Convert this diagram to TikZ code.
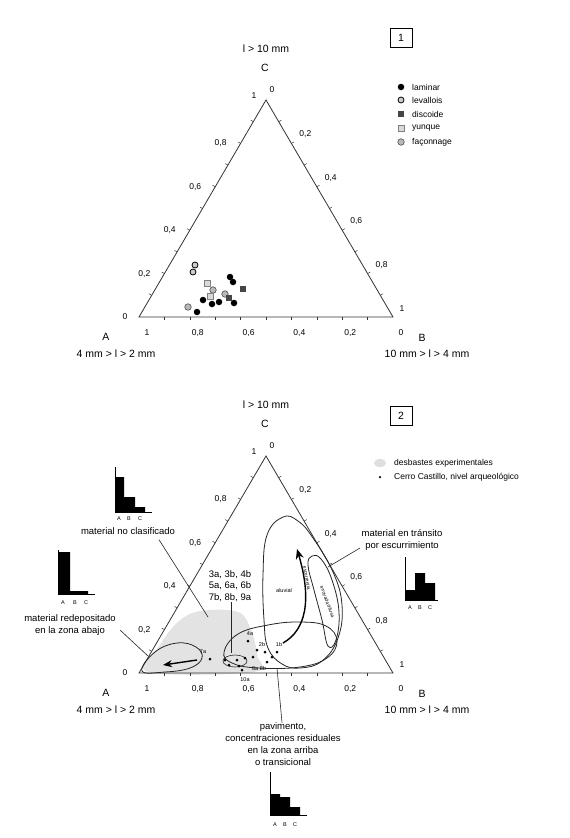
\documentclass[tikz,border=0pt]{standalone}
\usepackage{fontspec}
\setmainfont{Liberation Sans}
\usetikzlibrary{arrows.meta,calc}
\begin{document}
\begin{tikzpicture}[x=1pt,y=-1pt,
  ax/.style={line width=0.8pt, draw=black!80},
  tck/.style={line width=0.5pt, draw=black!80},
  num/.style={font=\fontsize{8.5}{9}\selectfont, inner sep=0pt},
  ttl/.style={font=\fontsize{10.5}{12}\selectfont, inner sep=0pt},
  lbl/.style={font=\fontsize{9.5}{11.8}\selectfont, inner sep=0pt, align=center},
  leg/.style={font=\fontsize{8.5}{10}\selectfont, inner sep=0pt, anchor=west},
  tiny/.style={font=\fontsize{5.5}{6}\selectfont, inner sep=0pt},
  micro/.style={font=\fontsize{4.8}{5}\selectfont, inner sep=0pt},
  lam/.style={circle, fill=black, inner sep=0pt, minimum size=6.5pt},
  lev/.style={circle, draw=black, fill=gray!40, line width=0.8pt, inner sep=0pt, minimum size=6pt},
  dis/.style={rectangle, fill=gray!55!black, inner sep=0pt, minimum size=6pt},
  yun/.style={rectangle, draw=gray, fill=gray!30, inner sep=0pt, minimum size=6pt},
  fac/.style={circle, draw=gray!60!black, fill=gray!55, line width=0.6pt, inner sep=0pt, minimum size=6.5pt},
  dot/.style={circle, fill=black, inner sep=0pt, minimum size=3pt},
  loop/.style={line width=0.8pt, draw=black!85},
  lead/.style={line width=0.6pt, draw=black!85},
  hbar/.style={fill=black},
  hax/.style={line width=0.6pt, draw=black}
]
\useasboundingbox (0,0) rectangle (570,838);
\fill[white] (0,0) rectangle (570,838);

% grey area of experimental knapping (lower diagram)
\fill[gray!22] plot[smooth cycle, tension=0.6] coordinates {(148,672) (160,645) (178,622) (200,611) (238,612) (251,630) (257,655) (254,672)};

% ---------- both ternary frames ----------
\foreach \s/\n in {0/1,356/2}{
\begin{scope}[shift={(0,\s)}]
  \coordinate (A\n) at (139,317);
  \coordinate (B\n) at (393,317);
  \coordinate (C\n) at (266,100);
  \draw[ax] (A\n) -- (B\n) -- (C\n) -- cycle;
  \foreach \i in {1,...,9}{
    \draw[tck] ($(A\n)!\i/10!(B\n)$) -- ++(0,3);
    \draw[tck] ($(A\n)!\i/10!(C\n)$) -- ++(-2.6,-1.5);
    \draw[tck] ($(C\n)!\i/10!(B\n)$) -- ++(2.6,-1.5);
  }
  \foreach \v/\t in {0/1,2/{0,8},4/{0,6},6/{0,4},8/{0,2},10/0}{
    \node[num] (bn\n\v) at ($(A\n)!\v/10!(B\n)+(8,16)$) {\t};
  }
  \foreach \v/\t in {2/{0,2},4/{0,4},6/{0,6},8/{0,8}}{
    \node[num] (ln\n\v) at ($(A\n)!\v/10!(C\n)+(-20,0)$) {\t};
    \node[num] (rn\n\v) at ($(C\n)!\v/10!(B\n)+(14,-9)$) {\t};
  }
  \node[num] (lz\n) at (125,317) {0};
  \node[num] (lo\n) at (254,96) {1};
  \node[num] (rz\n) at (272,90) {0};
  \node[num] (ro\n) at (402,309) {1};
  \node[ttl] (tl\n) at (266,49) {l > 10 mm};
  \node[ttl] (tc\n) at (265,68) {C};
  \node[ttl] (ta\n) at (106,337) {A};
  \node[ttl] (tad\n) at (116,354) {4 mm > l > 2 mm};
  \node[ttl] (tb\n) at (422,338) {B};
  \node[ttl] (tbd\n) at (427,354) {10 mm > l > 4 mm};
\end{scope}
}

% panel numbers
\node[ttl, draw, line width=0.8pt, minimum width=22pt, minimum height=19pt] (box1) at (401,38) {1};
\node[ttl, draw, line width=0.8pt, minimum width=22pt, minimum height=19pt] (box2) at (401,416) {2};

% ---------- legend 1 ----------
\node[lam] (lg1) at (401,87) {};   \node[leg] (lt1) at (412,87) {laminar};
\node[lev] (lg2) at (401,100) {};  \node[leg] (lt2) at (412,100) {levallois};
\node[dis] (lg3) at (401,114) {};  \node[leg] (lt3) at (412,114) {discoide};
\node[yun] (lg4) at (401,128) {};  \node[leg] (lt4) at (412,128) {yunque};
\node[fac] (lg5) at (401,142) {};  \node[leg] (lt5) at (412,142) {façonnage};

% ---------- data, diagram 1 ----------
\node[lev] (p1) at (195,265) {};
\node[lev] (p2) at (193,272) {};
\node[lam] (p3) at (230,277) {};
\node[lam] (p4) at (233,282) {};
\node[dis] (p5) at (243,289) {};
\node[yun] (p6) at (207,283) {};
\node[fac] (p7) at (213,290) {};
\node[yun] (p8) at (210,296) {};
\node[lam] (p9) at (203,300) {};
\node[lam] (p10) at (212,304) {};
\node[lam] (p11) at (219,302) {};
\node[fac] (p12) at (225,294) {};
\node[dis] (p13) at (229,298) {};
\node[lam] (p14) at (234,303) {};
\node[fac] (p15) at (188,307) {};
\node[lam] (p16) at (197,312) {};

% ---------- legend 2 ----------
\fill[gray!25] (380,463) ellipse (6pt and 4pt);
\node[leg] (l2t1) at (394,463) {desbastes experimentales};
\node[dot, minimum size=2.5pt] (l2d) at (380,477) {};
\node[leg] (l2t2) at (394,477) {Cerro Castillo, nivel arqueológico};

% ---------- loops, diagram 2 ----------
% material en transito (outer loop)
\draw[loop] plot[smooth cycle, tension=0.7] coordinates {(283,517) (267,535) (263,575) (264,620) (268,648) (282,664) (300,668) (322,661) (338,638) (342,605) (333,572) (313,538) (298,521)};
% inner narrow loop
\draw[loop] plot[smooth cycle, tension=0.7] coordinates {(312,556) (321,559) (332,580) (339,612) (336,640) (328,646) (322,620) (314,590) (308,565)};
% pavimento loop
\draw[loop] plot[smooth cycle, tension=0.7] coordinates {(224,652) (238,634) (268,625) (300,622) (326,626) (337,641) (327,658) (300,667) (258,668) (232,663)};
% small cluster loop
\draw[loop, line width=0.6pt] (235,661) ellipse (12pt and 6pt);
% redepositado loop
\draw[loop] plot[smooth cycle, tension=0.7] coordinates {(142,671) (155,652) (177,643) (196,647) (202,658) (190,668) (165,672)};

% arrows
\draw[line width=1.4pt, -{Stealth[length=9pt,width=7pt]}] (197,660) -- (163,665);
\draw[line width=1.4pt, -{Stealth[length=10pt,width=8pt]}] (283,643) .. controls (306,630) and (312,600) .. (297,549);

% labels inside loop
\node[tiny] (alu) at (284,591) {aluvial};
\node[micro, rotate=-80] (esc) at (307,578) {escorrentía};
\node[micro, rotate=-70] (arr) at (327,602) {arroyada difusa};

% ---------- data, diagram 2 ----------
\node[dot] (q1) at (210,659) {};
\node[dot] (q2) at (225,660) {};
\node[dot] (q3) at (229,665) {};
\node[dot] (q4) at (237,660) {};
\node[dot] (q5) at (245,658) {};
\node[dot] (q6) at (248,641) {};
\node[dot] (q7) at (257,650) {};
\node[dot] (q8) at (253,657) {};
\node[dot] (q9) at (265,652) {};
\node[dot] (q10) at (272,657) {};
\node[dot] (q11) at (277,652) {};
\node[dot] (q12) at (267,662) {};
\node[dot] (q13) at (242,670) {};
\node[dot] (q14) at (239,666) {};
\node[tiny] (d1) at (203,652) {7a};
\node[tiny] (d2) at (250,634) {4a};
\node[tiny] (d3) at (262,645) {2b};
\node[tiny] (d4) at (279,645) {1b};
\node[tiny] (d5) at (259,669) {8a 8b};
\node[tiny] (d6) at (245,680) {10a};

% ---------- histograms ----------
% H1 material no clasificado
\draw[hax] (115,467) -- (115,512) -- (152,512);
\fill[hbar] (115,512) -- (115,477) -- (124,477) -- (124,497) -- (135,497) -- (135,507) -- (145,507) -- (145,512) -- cycle;
\node[tiny] (h1a) at (119,519) {A};
\node[tiny] (h1b) at (129,519) {B};
\node[tiny] (h1c) at (140,519) {C};
% H2 material redepositado
\draw[hax] (58,550) -- (58,594) -- (95,594);
\fill[hbar] (58,594) -- (58,552) -- (70,552) -- (70,591) -- (88,591) -- (88,594) -- cycle;
\node[tiny] (h2a) at (63,603) {A};
\node[tiny] (h2b) at (75,603) {B};
\node[tiny] (h2c) at (86,603) {C};
% H3 material en transito
\draw[hax] (405,557) -- (405,600) -- (438,600);
\fill[hbar] (405,600) -- (405,590) -- (415,590) -- (415,573) -- (425,573) -- (425,583) -- (435,583) -- (435,600) -- cycle;
\node[tiny] (h3a) at (410,608) {A};
\node[tiny] (h3b) at (420,608) {B};
\node[tiny] (h3c) at (430,608) {C};
% H4 pavimento
\draw[hax] (270,772) -- (270,815) -- (307,815);
\fill[hbar] (270,815) -- (270,794) -- (280,794) -- (280,797) -- (290,797) -- (290,807) -- (300,807) -- (300,815) -- cycle;
\node[tiny] (h4a) at (275,825) {A};
\node[tiny] (h4b) at (285,825) {B};
\node[tiny] (h4c) at (295,825) {C};

% ---------- text labels and leaders ----------
\node[lbl] (nocl) at (128,531) {material no clasificado};
\node[lbl] (rede) at (70,625) {material redepositado\\en la zona abajo};
\node[lbl] (tran) at (402,540) {material en tránsito\\por escurrimiento};
\node[lbl] (cods) at (230,586) {3a, 3b, 4b\\5a, 6a, 6b\\7b, 8b, 9a};
\node[lbl] (pavi) at (283,744) {pavimento,\\concentraciones residuales\\en la zona arriba\\o transicional};

\coordinate (e1) at (208,617);
\coordinate (e2) at (148,656);
\coordinate (e3) at (328,567);
\coordinate (e4) at (231,653);
\coordinate (e5) at (277,668);
\draw[lead] (nocl.south -| 159,0) ++(0,5) coordinate (s1) -- (e1);
\draw[lead] (120,630) coordinate (s2) -- (e2);
\draw[lead] (360,548) coordinate (s3) -- (e3);
\draw[lead] (cods.south -| e4) coordinate (s4) -- (e4);
\draw[lead] (pavi.north -| 282,0) coordinate (s5) -- (e5);
\end{tikzpicture}
\end{document}
